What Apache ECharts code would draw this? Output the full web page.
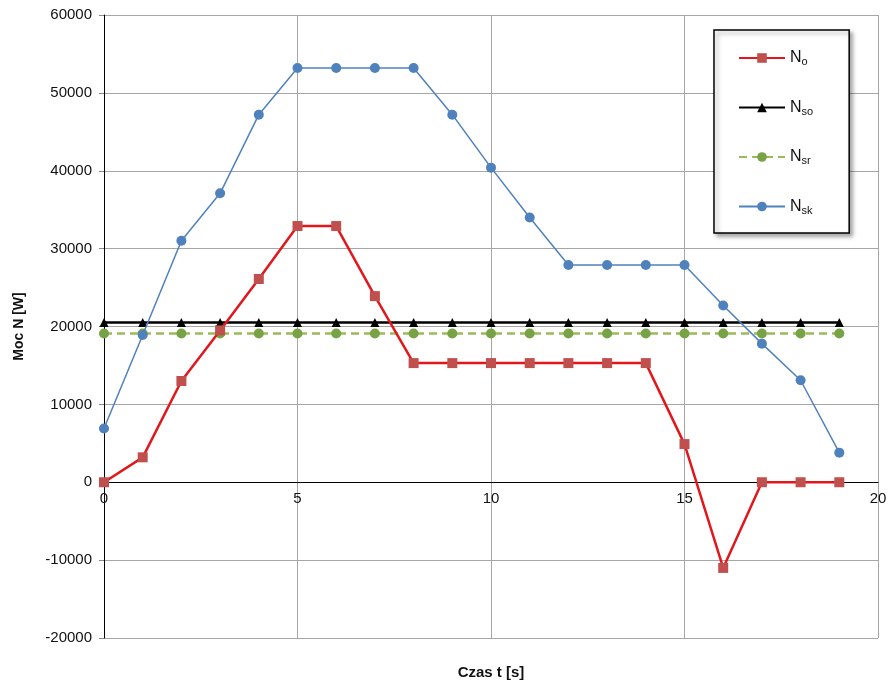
<!DOCTYPE html>
<html>
<head>
<meta charset="utf-8">
<script src="https://cdn.jsdelivr.net/npm/echarts@6/dist/echarts.min.js"></script>
<style>html,body{margin:0;padding:0;background:#fff}#c{width:892px;height:682px}</style>
</head>
<body>
<div id="c"></div>
<script>
const times = [0,1,2,3,4,5,6,7,8,9,10,11,12,13,14,15,16,17,18,19];
const N_o  = [0,3200,13000,19500,26100,32900,32900,23900,15300,15300,15300,15300,15300,15300,15300,4900,-11000,0,0,0];
const N_so = [20500,20500,20500,20500,20500,20500,20500,20500,20500,20500,20500,20500,20500,20500,20500,20500,20500,20500,20500,20500];
const N_sr = [19100,19100,19100,19100,19100,19100,19100,19100,19100,19100,19100,19100,19100,19100,19100,19100,19100,19100,19100,19100];
const N_sk = [6900,18900,31000,37100,47200,53200,53200,53200,53200,47200,40400,34000,27900,27900,27900,27900,22700,17800,13100,3800];
const seriesNames = ['No','Nso','Nsr','Nsk'];
const subs = {No:'o', Nso:'so', Nsr:'sr', Nsk:'sk'};

const pairs = arr => times.map((t,i)=>[t,arr[i]]);
const chart = echarts.init(document.getElementById('c'));
const font = 'Liberation Sans, Arial, sans-serif';
const H = 682, gridBottom = 44, nameY = 665;
chart.setOption({
  animation:false,
  grid:{left:104,right:14,top:15,bottom:gridBottom,containLabel:false,outerBoundsMode:'none'},
  xAxis:{type:'value',min:0,max:20,interval:5,
    name:'Czas t [s]',nameLocation:'middle',nameGap:27,
    nameTextStyle:{fontFamily:font,fontWeight:'bold',fontSize:15,color:'#111'},
    axisLine:{onZero:false,lineStyle:{color:'#000',width:1}},
    axisTick:{show:false},
    axisLabel:{fontFamily:font,fontSize:15,color:'#111',margin:9,formatter:v=>String(v)},
    splitLine:{show:true,lineStyle:{color:'#a6a6a6',width:1}}
  },
  yAxis:{type:'value',min:-20000,max:60000,interval:10000,
    name:'Moc N [W]',nameLocation:'middle',nameGap:78,nameRotate:90,
    nameTextStyle:{fontFamily:font,fontWeight:'bold',fontSize:14,color:'#111'},
    axisLine:{show:true,lineStyle:{color:'#000',width:1}},
    axisTick:{show:true,length:5,lineStyle:{color:'#888'}},
    axisLabel:{fontFamily:font,fontSize:15,color:'#111',margin:12,formatter:v=>String(v)},
    splitLine:{show:true,lineStyle:{color:'#a6a6a6',width:1}}
  },
  legend:{orient:'vertical',left:714,top:30,
    padding:[20,36,17,24],itemGap:32,itemWidth:46,itemHeight:12,
    backgroundColor:'#fff',borderColor:'#000',borderWidth:1.5,
    shadowColor:'rgba(0,0,0,0.35)',shadowBlur:4,shadowOffsetX:3,shadowOffsetY:3,
    data:seriesNames,
    formatter:n=>'N{s|'+subs[n]+'}',
    textStyle:{fontFamily:font,fontSize:16,color:'#111',
      rich:{s:{fontFamily:font,fontSize:11,color:'#111',padding:[8,0,0,0]}}}
  },
  series:[
    {name:'No',type:'line',data:pairs(N_o),symbol:'rect',symbolSize:10,
      lineStyle:{color:'#e3171b',width:2.5},itemStyle:{color:'#c0504d'},z:5},
    {name:'Nso',type:'line',data:pairs(N_so),symbol:'triangle',symbolSize:9,
      lineStyle:{color:'#000',width:2.5},itemStyle:{color:'#000'},z:3},
    {name:'Nsr',type:'line',data:pairs(N_sr),symbol:'circle',symbolSize:10,
      lineStyle:{color:'#9bbb59',width:2.5,type:[8,5]},itemStyle:{color:'#77a346'},z:3},
    {name:'Nsk',type:'line',data:pairs(N_sk),symbol:'circle',symbolSize:10,
      lineStyle:{color:'#4f81bd',width:1.5},itemStyle:{color:'#4f81bd'},z:4}
  ]
});
// move the x axis (line + labels) up to the y = 0 line, keep its title near the bottom
const zeroPx = chart.convertToPixel({yAxisIndex:0}, 0);
const bottomPx = H - gridBottom;
const off = bottomPx - zeroPx;
chart.setOption({xAxis:{offset:-off, nameGap:(nameY - zeroPx)}});
</script>
</body>
</html>
